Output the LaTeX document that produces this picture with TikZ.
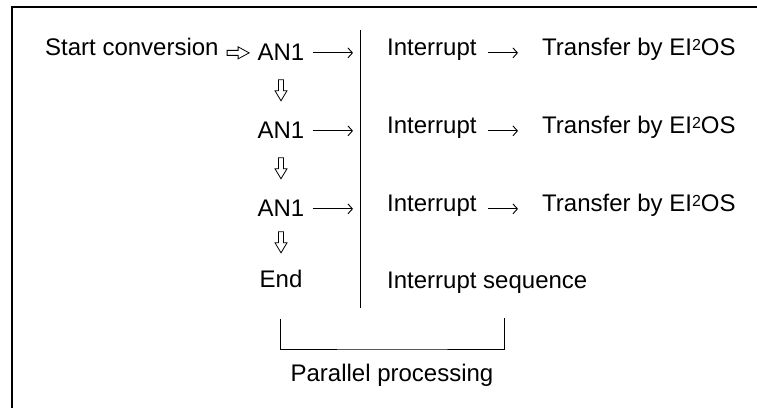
\documentclass[tikz,border=0pt]{standalone}
\usepackage{fontspec}
\setmainfont{Liberation Sans}
\usetikzlibrary{arrows.meta, calc}

\newcommand{\eitwo}{EI\raisebox{5pt}{\fontsize{16}{16}\selectfont 2}OS}

\begin{document}
\begin{tikzpicture}[
    x=1pt, y=-1pt,
    >={Straight Barb[length=4.5pt, width=10pt]},
    font=\fontsize{24}{28}\selectfont,
    txt/.style={inner sep=0pt, anchor=base west},
    stage/.style={inner sep=0pt, anchor=base},
    arr/.style={->, line width=0.9pt},
    rule/.style={line width=0.9pt},
    frame/.style={line width=2pt},
    downarr/.pic={
        \draw[line width=0.8pt] (-2.5,-11) -- (-2.5,0) -- (-6,0) -- (0,10)
            -- (6,0) -- (2.5,0) -- (2.5,-11) -- cycle;
    },
    rightarr/.pic={
        \draw[line width=0.8pt] (-11,-2.5) -- (0,-2.5) -- (0,-6) -- (11,0)
            -- (0,6) -- (0,2.5) -- (-11,2.5) -- cycle;
    },
]
\useasboundingbox (0,0) rectangle (757,407);

% Frame (left and top edges only)
\draw[frame] (12,410) -- (12,7) -- (760,7);

% Conversion sequence
\node[txt] (start) at (45,55.5) {Start conversion};
\node[stage] (an1a) at (281,60) {AN1};
\node[stage] (an1b) at (281,138) {AN1};
\node[stage] (an1c) at (281,216) {AN1};
\node[stage] (fin) at (281,287) {End};

\pic at ($(start.mid east)!0.5!(an1a.west |- start.mid)$) {rightarr};
\foreach \a/\b in {an1a/an1b, an1b/an1c, an1c/fin}
    \pic at ($(\a.south)!0.5!(\b.north)$) {downarr};

% Divider between the two sequences
\coordinate (seqtop) at (360,30);
\coordinate (seqbot) at (360,308);
\draw[rule] (seqtop) -- (seqbot);

% Interrupt sequence
\node[txt] (int1) at (387,55.5) {Interrupt};
\node[txt] (int2) at (387,133.5) {Interrupt};
\node[txt] (int3) at (387,211.5) {Interrupt};
\node[txt] (xfer1) at (542,55.5) {Transfer by \eitwo};
\node[txt] (xfer2) at (542,133.5) {Transfer by \eitwo};
\node[txt] (xfer3) at (542,211.5) {Transfer by \eitwo};
\node[txt] (intseq) at (387,288.5) {Interrupt sequence};

\foreach \a/\i/\x in {an1a/int1/xfer1, an1b/int2/xfer2, an1c/int3/xfer3} {
    \draw[arr] ([xshift=8pt]\a.east |- \i.mid) -- ([xshift=-7pt]seqtop |- \i.mid);
    \draw[arr, shorten <=11pt, shorten >=24pt] (\i.mid east) -- (\x.mid west);
}

% Bracket
\coordinate (brl) at (280,319);
\coordinate (brr) at (504,318);
\coordinate (brbot) at (392,349);
\draw[rule] (brl) |- (brbot) -| (brr);
\node[stage] (par) at (brbot |- 0,381) {Parallel processing};

\end{tikzpicture}
\end{document}
